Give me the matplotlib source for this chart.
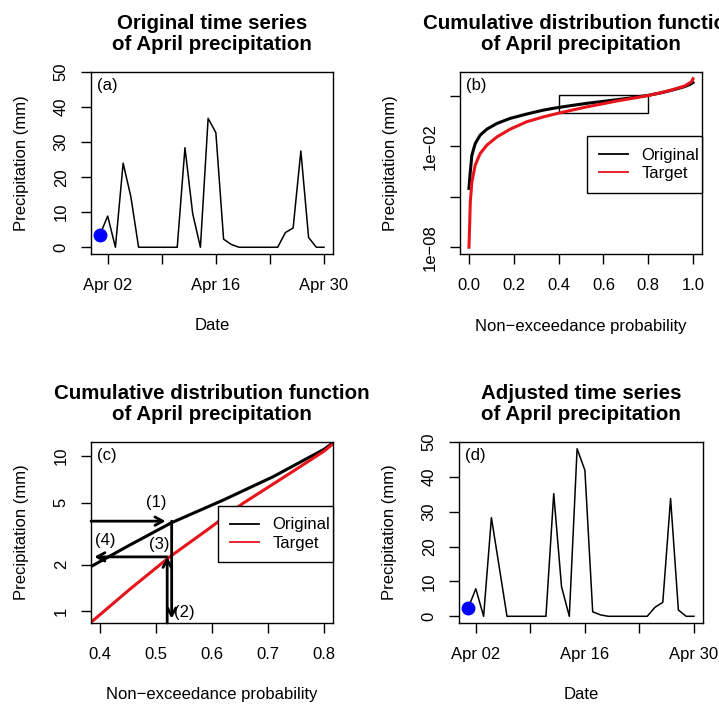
import numpy as np
import matplotlib as mpl
mpl.use('Agg')
import matplotlib.pyplot as plt
import matplotlib.dates as mdates
from matplotlib.patches import Rectangle
from matplotlib.lines import Line2D
from matplotlib.ticker import FixedLocator, FixedFormatter, NullLocator

plt.rcParams['font.family'] = ['Liberation Sans', 'DejaVu Sans']

# ---------------- data ----------------
dates = np.arange('2000-04-01', '2000-05-01', dtype='datetime64[D]')
orig_mm = [3.6, 8.9, 0, 24.0, 14.4, 0, 0, 0, 0, 0, 0, 28.4, 9.6, 0, 36.8,
           32.7, 2.3, 0.8, 0, 0, 0, 0, 0, 0, 4.2, 5.5, 27.5, 2.8, 0, 0]
adj_mm = [2.3, 7.9, 0, 28.3, 14.2, 0, 0, 0, 0, 0, 0, 35.2, 8.5, 0, 48.1,
          41.9, 1.3, 0.4, 0, 0, 0, 0, 0, 0, 2.6, 4.0, 33.8, 1.8, 0, 0]
date_ticks = ['2000-04-02', '2000-04-09', '2000-04-16', '2000-04-23', '2000-04-30']
date_labels = ['Apr 02', '', 'Apr 16', '', 'Apr 30']

# CDFs: non-exceedance probability vs precipitation (mm)
p_orig = [0.0, 0.006, 0.013, 0.028, 0.05, 0.08, 0.125, 0.184, 0.258, 0.332,
          0.385, 0.45, 0.5275, 0.62, 0.709, 0.80, 0.86, 0.92, 0.96, 0.985, 1.0]
q_orig = [3.2e-5, 3.2e-4, 3.0e-3, 0.015, 0.047, 0.107, 0.234, 0.468, 0.85, 1.45,
          1.95, 2.63, 3.71, 5.19, 7.33, 11.0, 15.8, 25.1, 35.5, 47.9, 63.1]
p_targ = [0.0, 0.003, 0.006, 0.013, 0.028, 0.05, 0.08, 0.125, 0.184, 0.258,
          0.332, 0.385, 0.4525, 0.5245, 0.59, 0.655, 0.739, 0.80, 0.85, 0.904,
          0.963, 0.993, 1.0]
q_targ = [1e-8, 2.0e-7, 5.0e-6, 7.8e-5, 7.8e-4, 3.8e-3, 0.012, 0.037, 0.107, 0.295,
          0.575, 0.857, 1.38, 2.24, 3.31, 4.94, 7.71, 10.7, 15.1, 22.9,
          39.8, 70.8, 107.0]

# zoom window of panel (c)
zoom_p = [0.4, 0.8]
zoom_q = [0.93, 11.1]

# quantile mapping steps of panel (c)
step_q_orig = 3.8
step_q_adj = 2.24
step_p_orig = 0.528
step_p_targ = 0.52
step_labels = ['(1)', '(2)', '(3)', '(4)']
step_label_x = [0.5006, 0.551, 0.5066, 0.409]
step_label_y = [5.0, 0.98, 2.68, 2.84]

RED = '#e8141b'
BLUE = '#0000ff'


def r_range(lo, hi):
    d = (hi - lo) * 0.04
    return lo - d, hi + d


def r_range_log(lo, hi):
    a, b = r_range(np.log10(lo), np.log10(hi))
    return 10 ** a, 10 ** b


W, H = 719, 706
fig = plt.figure(figsize=(W / 100, H / 100), dpi=100)


def add_ax(x0, y0, x1, y1):
    return fig.add_axes([x0 / W, 1 - y1 / H, (x1 - x0) / W, (y1 - y0) / H])


ax_a = add_ax(91, 72, 333, 254)
ax_b = add_ax(460, 72, 702, 254)
ax_c = add_ax(91, 442, 333, 623)
ax_d = add_ax(459, 442, 703, 623)


def style(ax, title, xlabel, tag):
    ax.set_title(title, fontsize=14.8, fontweight='bold', pad=16, linespacing=1.1)
    ax.set_xlabel(xlabel, fontsize=12, va='center')
    ax.set_ylabel('Precipitation (mm)', fontsize=12, va='center')
    ax.xaxis.set_label_coords(0.5, -72 / 182)
    ax.yaxis.set_label_coords(-69 / 242, 0.5)
    ax.tick_params(length=7, width=1, labelsize=12, direction='out')
    ax.tick_params(axis='x', pad=10)
    ax.tick_params(axis='y', pad=9, labelrotation=90)
    for lab in ax.get_yticklabels():
        lab.set_va('center')
    for s in ax.spines.values():
        s.set_linewidth(1)
    ax.text(0.025, 0.925, tag, transform=ax.transAxes, fontsize=12,
            va='center', ha='left')


def cdf_legend(ax):
    handles = [Line2D([], [], color='black', lw=1.3),
               Line2D([], [], color=RED, lw=1.3)]
    ax.legend(handles, ['Original', 'Target'], loc='upper left',
              bbox_to_anchor=(0.525, 0.346, 0.475, 0.302), mode='expand',
              fancybox=False, edgecolor='black', framealpha=1, fontsize=12,
              borderaxespad=0, borderpad=0.7, labelspacing=0.2,
              handlelength=1.75, handletextpad=0.8)
    ax.get_legend().get_frame().set_linewidth(1)


def time_series(ax, values):
    ax.plot(dates, values, color='black', lw=1.1)
    ax.plot(dates[0], values[0], 'o', color=BLUE, ms=9)
    lo = mdates.date2num(dates[0])
    hi = mdates.date2num(dates[-1])
    ax.set_xlim(r_range(lo, hi))
    ax.set_ylim(r_range(0, max(adj_mm)))
    ax.set_xticks(np.array(date_ticks, dtype='datetime64[D]'))
    ax.set_xticklabels(date_labels)
    ax.set_yticks([0, 10, 20, 30, 40, 50])


def cdf_axes(ax):
    ax.plot(p_orig, q_orig, color='black', lw=2.2)
    ax.plot(p_targ, q_targ, color=RED, lw=2.2)
    ax.set_yscale('log')
    ax.yaxis.set_minor_locator(NullLocator())


# (a) original series
time_series(ax_a, orig_mm)
style(ax_a, 'Original time series\nof April precipitation', 'Date', '(a)')

# (b) full CDFs
cdf_axes(ax_b)
ax_b.set_xlim(r_range(0, 1))
ax_b.set_ylim(r_range_log(min(q_targ), max(q_targ)))
ax_b.set_xticks([0, 0.2, 0.4, 0.6, 0.8, 1.0])
ax_b.set_xticklabels(['0.0', '0.2', '0.4', '0.6', '0.8', '1.0'])
ax_b.yaxis.set_major_locator(FixedLocator([1e-8, 1e-5, 1e-2, 1e1]))
ax_b.yaxis.set_major_formatter(FixedFormatter(['1e\u221208', '', '1e\u221202', '']))
ax_b.add_patch(Rectangle((zoom_p[0], zoom_q[0]), zoom_p[1] - zoom_p[0],
                         zoom_q[1] - zoom_q[0], fill=False, lw=1, ec='black'))
cdf_legend(ax_b)
style(ax_b, 'Cumulative distribution function\nof April precipitation',
      'Non\u2212exceedance probability', '(b)')

# (c) zoomed CDFs with the mapping steps
cdf_axes(ax_c)
ax_c.set_xlim(r_range(*zoom_p))
ax_c.set_ylim(r_range_log(*zoom_q))
ax_c.set_xticks([0.4, 0.5, 0.6, 0.7, 0.8])
ax_c.yaxis.set_major_locator(FixedLocator([1, 2, 5, 10]))
ax_c.yaxis.set_major_formatter(FixedFormatter(['1', '2', '5', '10']))
x_left = ax_c.get_xlim()[0]
y_bot = ax_c.get_ylim()[0]
arrow = dict(arrowstyle='->,head_length=0.55,head_width=0.3', lw=2,
             color='black', shrinkA=0, shrinkB=0)
ax_c.annotate('', xy=(step_p_targ - 0.003, step_q_orig), xytext=(x_left, step_q_orig),
              arrowprops=arrow)
ax_c.annotate('', xy=(step_p_orig, 0.9), xytext=(step_p_orig, step_q_orig),
              arrowprops=arrow)
ax_c.annotate('', xy=(step_p_targ, step_q_adj), xytext=(step_p_targ, y_bot),
              arrowprops=arrow)
ax_c.annotate('', xy=(0.39, step_q_adj), xytext=(step_p_targ, step_q_adj),
              arrowprops=arrow)
for lab, x, y in zip(step_labels, step_label_x, step_label_y):
    ax_c.text(x, y, lab, fontsize=12, ha='center', va='center')
cdf_legend(ax_c)
style(ax_c, 'Cumulative distribution function\nof April precipitation',
      'Non\u2212exceedance probability', '(c)')

# (d) adjusted series
time_series(ax_d, adj_mm)
style(ax_d, 'Adjusted time series\nof April precipitation', 'Date', '(d)')

fig.savefig('out.png', dpi=100)
